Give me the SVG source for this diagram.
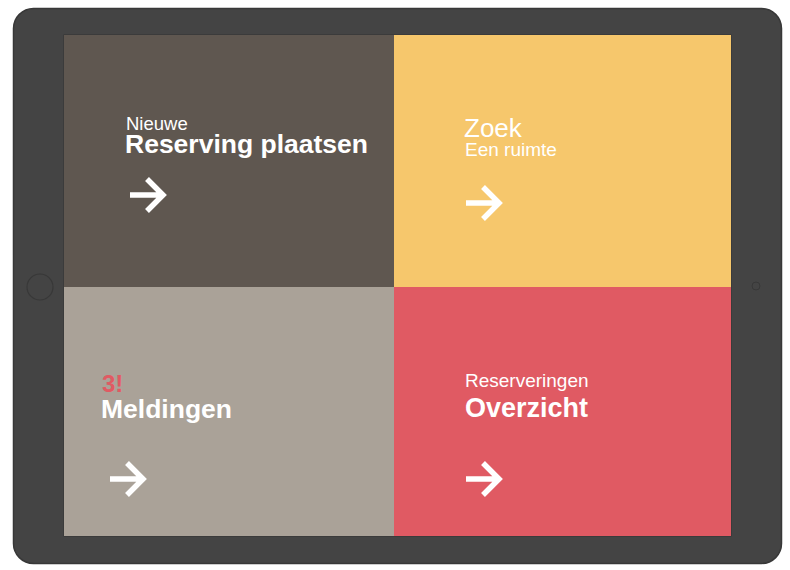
<svg xmlns="http://www.w3.org/2000/svg" width="790" height="570" viewBox="0 0 790 570">
  <defs>
    <style>
      .t { font-family: "Liberation Sans", Arial, sans-serif; fill: #ffffff; }
      .b { font-weight: bold; }
      .red { fill: #e05a63; }
      .arrow { fill: none; stroke: #ffffff; stroke-width: 5.5; stroke-linejoin: miter; stroke-linecap: butt; }
    </style>
    <path id="arr" d="M0,0 H33 M17,-16 L33,0 L17,16"/>
  </defs>
  <rect width="790" height="570" fill="#ffffff"/>
  <g id="tablet">
    <rect x="13.5" y="8.5" width="768" height="555" rx="20" ry="20" fill="#444444" stroke="#383838" stroke-width="1.5"/>
    <circle cx="40" cy="287" r="13" fill="none" stroke="#383838" stroke-width="1.2"/>
    <circle cx="756" cy="286" r="4" fill="none" stroke="#383838" stroke-width="1"/>
    <rect x="63.5" y="34.5" width="668" height="502" fill="#333333"/>
  </g>
  <g id="tile-nieuwe">
    <rect x="64" y="35" width="330" height="252" fill="#5f5750"/>
    <text class="t" x="126" y="130" font-size="18.5">Nieuwe</text>
    <text class="t b" x="125" y="153" font-size="26.5">Reserving plaatsen</text>
    <use href="#arr" class="arrow" transform="translate(130,195)"/>
  </g>
  <g id="tile-zoek">
    <rect x="394" y="35" width="337" height="252" fill="#f6c76c"/>
    <text class="t" x="464" y="137" font-size="26">Zoek</text>
    <text class="t" x="465" y="156" font-size="19">Een ruimte</text>
    <use href="#arr" class="arrow" transform="translate(466,203)"/>
  </g>
  <g id="tile-meldingen">
    <rect x="64" y="287" width="330" height="249" fill="#aaa298"/>
    <text class="t b red" x="102" y="392" font-size="24">3!</text>
    <text class="t b" x="101" y="418" font-size="26.5">Meldingen</text>
    <use href="#arr" class="arrow" transform="translate(110,479)"/>
  </g>
  <g id="tile-overzicht">
    <rect x="394" y="287" width="337" height="249" fill="#e05a63"/>
    <text class="t" x="465" y="387" font-size="19">Reserveringen</text>
    <text class="t b" x="465" y="417" font-size="27">Overzicht</text>
    <use href="#arr" class="arrow" transform="translate(466,479)"/>
  </g>
  <g id="connectors"/>
</svg>
